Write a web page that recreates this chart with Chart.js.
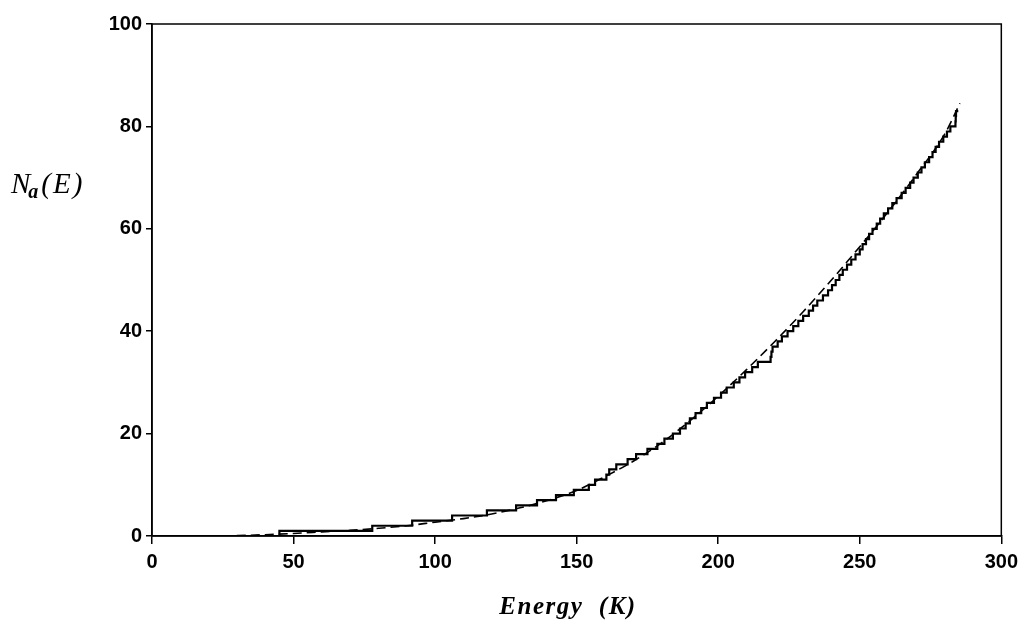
<!DOCTYPE html>
<html>
<head>
<meta charset="utf-8">
<script src="https://cdn.jsdelivr.net/npm/chart.js@4/dist/chart.umd.min.js"></script>
<style>
  html, body { margin: 0; padding: 0; background: #fff; }
  #wrap { width: 1024px; height: 626px; position: relative; }
</style>
</head>
<body>
<div id="wrap"><canvas id="c" width="1024" height="626"></canvas></div>
<script>
// Axis tick values
const xTicks = [0, 50, 100, 150, 200, 250, 300];
const yTicks = [0, 20, 40, 60, 80, 100];

// Energies (K) of the individual levels; the staircase N_a(E) rises by one at each
const levelEnergies = [
  45.0, 77.8, 91.9, 106.0, 118.3, 128.6, 136.0, 142.7, 149.0, 154.3,
  156.5, 160.5, 161.5, 164.0, 168.0, 171.0, 175.0, 178.5, 181.0, 184.0,
  186.5, 188.5, 190.0, 192.0, 194.0, 196.0, 198.5, 201.0, 203.0, 205.5,
  207.5, 209.5, 212.0, 214.0, 218.5, 218.8, 219.2, 221.0, 222.5, 224.5,
  226.5, 228.3, 230.0, 232.0, 233.5, 235.0, 237.0, 238.8, 240.2, 241.5,
  242.8, 244.0, 245.5, 247.0, 248.5, 250.0, 251.0, 252.2, 253.3, 254.5,
  256.0, 257.2, 258.5, 260.0, 261.5, 263.0, 264.8, 266.2, 267.8, 269.0,
  270.5, 271.8, 273.0, 274.5, 275.7, 276.8, 278.0, 279.5, 280.8, 282.0,
  283.8, 283.9, 284.0
];
const stairEndEnergy = 284.8;

// Smooth average level count (dashed curve)
const smoothEnergy = [25, 40, 50, 60, 70, 80, 90, 100, 110, 120, 130, 140, 150,
  160, 170, 180, 190, 200, 210, 220, 230, 240, 250, 260, 270, 280, 285.4];
const smoothCount = [0, 0.25, 0.5, 0.8, 1.1, 1.5, 2.0, 2.7, 3.4, 4.3, 5.5, 7.0, 8.9,
  11.6, 14.6, 18.2, 22.5, 27.3, 32.5, 38.0, 43.8, 50.0, 56.5, 63.3, 70.6, 78.5, 84.5];

const stairPoints = [{ x: 0, y: 0 }]
  .concat(levelEnergies.map((e, i) => ({ x: e, y: i + 1 })))
  .concat([{ x: stairEndEnergy, y: levelEnergies.length }]);
const smoothPoints = smoothEnergy.map((e, i) => ({ x: e, y: smoothCount[i] }));

const tickFont = { family: '"Liberation Sans", Arial, sans-serif', size: 20, weight: 'bold' };
const serif = '"Liberation Serif", "DejaVu Serif", serif';

// Box around the plot plus the two axis titles
const framePlugin = {
  id: 'frame',
  afterDraw(chart) {
    const { ctx, chartArea: a } = chart;
    ctx.save();
    ctx.strokeStyle = '#000';
    ctx.lineWidth = 1.5;
    ctx.strokeRect(a.left, a.top, a.right - a.left, a.bottom - a.top);

    ctx.fillStyle = '#000';
    ctx.textBaseline = 'alphabetic';
    // y title: N_a(E)
    ctx.textAlign = 'left';
    let x = 11;
    const base = 193;
    ctx.font = 'italic 29px ' + serif;
    ctx.fillText('N', x, base);
    x += ctx.measureText('N').width;
    ctx.font = 'italic bold 20px ' + serif;
    ctx.fillText('a', x - 2, base + 5);
    x += ctx.measureText('a').width;
    ctx.font = 'italic 29px ' + serif;
    if ('letterSpacing' in ctx) ctx.letterSpacing = '2px';
    ctx.fillText('(E)', x + 1, base);
    if ('letterSpacing' in ctx) ctx.letterSpacing = '0px';

    // x title
    ctx.textAlign = 'center';
    ctx.font = 'italic bold 25px ' + serif;
    if ('letterSpacing' in ctx) ctx.letterSpacing = '1.5px';
    ctx.fillText('Energy  (K)', 568, 614);
    ctx.restore();
  }
};

new Chart(document.getElementById('c'), {
  type: 'scatter',
  data: {
    datasets: [
      {
        label: 'N_a(E)',
        data: stairPoints,
        showLine: true,
        stepped: 'before',
        borderColor: '#000',
        borderWidth: 2.2,
        pointRadius: 0,
        fill: false
      },
      {
        label: 'smooth',
        data: smoothPoints,
        showLine: true,
        borderColor: '#000',
        borderWidth: 1.6,
        borderDash: [9, 5],
        cubicInterpolationMode: 'monotone',
        pointRadius: 0,
        fill: false
      }
    ]
  },
  options: {
    responsive: false,
    animation: false,
    devicePixelRatio: 1,
    layout: { padding: { top: 24, right: 22, left: 0, bottom: 0 } },
    plugins: { legend: { display: false }, tooltip: { enabled: false } },
    scales: {
      x: {
        type: 'linear',
        min: 0,
        max: 300,
        afterBuildTicks: s => { s.ticks = xTicks.map(v => ({ value: v })); },
        afterFit: s => { s.height = 90; },
        ticks: { font: tickFont, color: '#000', padding: 6, maxRotation: 0 },
        grid: { drawOnChartArea: false, drawTicks: true, tickLength: 8, color: '#000', lineWidth: 1.5 },
        border: { display: true, color: '#000', width: 1.5 }
      },
      y: {
        type: 'linear',
        min: 0,
        max: 100,
        afterBuildTicks: s => { s.ticks = yTicks.map(v => ({ value: v })); },
        afterFit: s => { s.width = 152; },
        ticks: { font: tickFont, color: '#000', padding: 4 },
        grid: { drawOnChartArea: false, drawTicks: true, tickLength: 6, color: '#000', lineWidth: 1.5 },
        border: { display: true, color: '#000', width: 1.5 }
      }
    }
  },
  plugins: [framePlugin]
});
</script>
</body>
</html>
